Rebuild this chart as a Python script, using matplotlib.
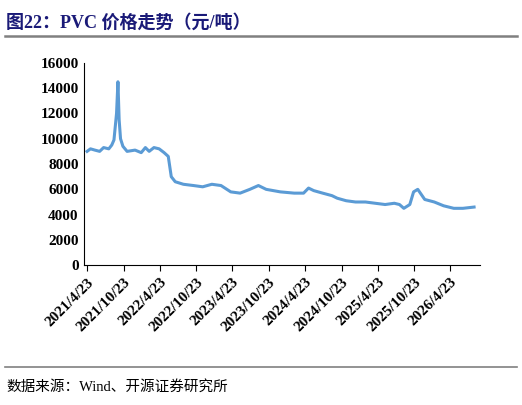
import matplotlib
matplotlib.use("Agg")
import matplotlib.pyplot as plt
import pandas as pd

dates = ["2021-04-23","2021-05-10","2021-06-01","2021-06-25","2021-07-15","2021-08-10","2021-08-25","2021-09-05","2021-09-18","2021-09-25",
         "2021-10-01","2021-10-08","2021-10-20","2021-11-10","2021-12-20","2022-01-20","2022-02-10","2022-03-01","2022-03-25","2022-04-20",
         "2022-05-15","2022-06-05","2022-06-20","2022-07-10","2022-08-20","2022-10-10","2022-11-25","2023-01-10","2023-02-25","2023-04-15",
         "2023-06-01","2023-07-20","2023-09-01","2023-10-10","2023-12-20","2024-02-28","2024-04-15","2024-05-10","2024-06-05","2024-07-20",
         "2024-09-05","2024-10-01","2024-11-15","2025-01-01","2025-02-20","2025-04-10","2025-05-30","2025-07-15","2025-08-10","2025-09-01",
         "2025-10-01","2025-10-20","2025-11-10","2025-12-15","2026-02-01","2026-03-20","2026-05-10","2026-06-25","2026-08-20"]
values = [9000,9200,9100,9000,9300,9200,9500,9900,12000,14500,
          11500,10000,9400,9000,9100,8900,9300,9000,9300,9200,
          8900,8600,7000,6600,6400,6300,6200,6400,6300,5800,
          5700,6000,6300,6000,5800,5700,5700,6100,5900,5700,
          5500,5300,5100,5000,5000,4900,4800,4900,4800,4500,
          4800,5800,6000,5200,5000,4700,4500,4500,4600]
tick_labels = ["2021/4/23","2021/10/23","2022/4/23","2022/10/23","2023/4/23","2023/10/23",
               "2024/4/23","2024/10/23","2025/4/23","2025/10/23","2026/4/23"]

x = pd.to_datetime(dates)
serif = ["Liberation Serif", "Noto Sans CJK SC"]
cjk = ["Noto Sans CJK SC", "DejaVu Sans"]

fig = plt.figure(figsize=(5.22, 4.05), dpi=100)
ax = fig.add_axes([0.16, 0.345, 0.76, 0.5])
ax.plot(x, values, color="#5B9BD5", lw=2.2)
ax.set_ylim(0, 16000)
ax.set_yticks(range(0, 16001, 2000))
ticks = pd.to_datetime([t.replace("/", "-") for t in tick_labels])
ax.set_xticks(ticks)
ax.set_xticklabels(tick_labels, rotation=45, ha="right", rotation_mode="anchor")
ax.set_xlim(pd.Timestamp("2021-04-05"), pd.Timestamp("2026-09-20"))
for lab in ax.get_xticklabels() + ax.get_yticklabels():
    lab.set_family(serif); lab.set_fontsize(11); lab.set_fontweight("bold")
for s in ["top", "right"]:
    ax.spines[s].set_visible(False)
ax.tick_params(axis="x", length=4, direction="out")
ax.tick_params(axis="y", length=0)

fig.text(0.012, 0.965, "图22：PVC 价格走势（元/吨）", family=["Liberation Serif", "Noto Sans CJK SC"],
         fontsize=13, fontweight="bold", color="#1A1A78", va="top")
fig.add_artist(plt.Line2D([0.01, 0.99], [0.91, 0.91], color="#808080", lw=1.8))
fig.add_artist(plt.Line2D([0.01, 0.99], [0.095, 0.095], color="#808080", lw=1.2))
fig.text(0.012, 0.045, "数据来源：Wind、开源证券研究所", family=["Liberation Serif", "Noto Sans CJK SC"],
         fontsize=10.5, va="center")
fig.savefig("out.png", dpi=100)
